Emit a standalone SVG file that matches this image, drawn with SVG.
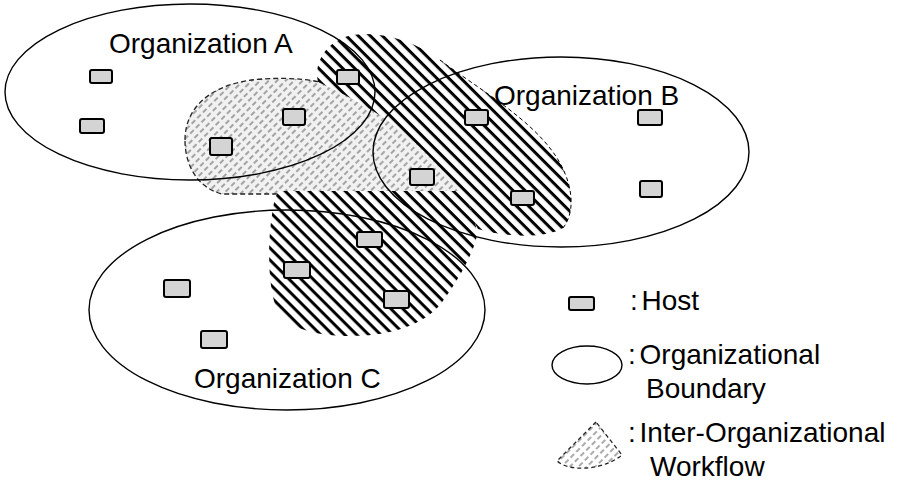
<svg xmlns="http://www.w3.org/2000/svg" width="903" height="486" viewBox="0 0 903 486">
  <defs>
    <!-- thick black "\" hatching for the cross-organization workflows -->
    <pattern id="hatch-dark" width="8.5" height="8.5" patternUnits="userSpaceOnUse" patternTransform="rotate(45)">
      <rect x="0" y="0" width="8.5" height="3" fill="#000"/>
    </pattern>
    <!-- grey dashed "/" hatching for the light workflow -->
    <pattern id="hatch-light" width="8" height="6" patternUnits="userSpaceOnUse" patternTransform="rotate(-45)">
      <line x1="0" y1="1" x2="8" y2="1" stroke="#555" stroke-width="1" stroke-dasharray="5 3"/>
    </pattern>
  </defs>
  <style>
    .org { fill: none; stroke: #000; stroke-width: 1.4; }
    .host { fill: #d4d4d4; stroke: #000; stroke-width: 2; }
    .label { font-family: "Liberation Sans", Arial, sans-serif; font-size: 28px; fill: #000; }
    .legend { word-spacing: -4px; }
    .wf-light-bg { fill: #f1f1f1; }
    .wf-light { fill: url(#hatch-light); stroke: #222; stroke-width: 1.3; stroke-dasharray: 5 3; }
    .wf-dark-bg { fill: #fff; }
    .wf-dark { fill: url(#hatch-dark); }
  </style>
  <rect width="903" height="486" fill="#fff"/>

  <!-- light workflow inside Organization A reaching into B -->
  <g id="workflow-light">
    <path class="wf-light-bg" d="M185,140 C185,104 216,82 262,79 C292,77 318,80 335,86 C360,96 385,108 405,120 C430,140 452,165 466,190 L460,194 L222,194 C198,188 185,166 185,140 Z"/>
    <path class="wf-light" d="M185,140 C185,104 216,82 262,79 C292,77 318,80 335,86 C360,96 385,108 405,120 C430,140 452,165 466,190 L460,194 L222,194 C198,188 185,166 185,140 Z"/>
  </g>

  <!-- workflow spanning A and B -->
  <g id="workflow-ab">
    <path class="wf-dark-bg" d="M318,82 C314,64 324,45 345,37 C372,29 410,38 440,60 C480,90 530,118 555,155 C572,180 577,210 563,228 C545,239 505,237 478,229 C470,215 465,200 458,188 C432,158 410,136 387,120 C365,105 340,92 318,82 Z"/>
    <path class="wf-dark" d="M318,82 C314,64 324,45 345,37 C372,29 410,38 440,60 C480,90 530,118 555,155 C572,180 577,210 563,228 C545,239 505,237 478,229 C470,215 465,200 458,188 C432,158 410,136 387,120 C365,105 340,92 318,82 Z"/>
    <path d="M440,60 C480,90 530,118 555,155 C572,180 577,210 563,228" fill="none" stroke="#000" stroke-width="1" stroke-dasharray="4 3"/>
  </g>

  <!-- workflow reaching into C -->
  <g id="workflow-c">
    <path class="wf-dark-bg" d="M280,191 L462,191 C470,205 479,225 476,240 C470,260 455,285 440,305 C424,323 395,336 350,336 C310,336 286,326 277,310 C267,285 268,240 272,215 C274,200 276,193 280,191 Z"/>
    <path class="wf-dark" d="M280,191 L462,191 C470,205 479,225 476,240 C470,260 455,285 440,305 C424,323 395,336 350,336 C310,336 286,326 277,310 C267,285 268,240 272,215 C274,200 276,193 280,191 Z"/>
  </g>

  <!-- organizational boundaries -->
  <g id="org-a">
    <ellipse class="org" cx="190" cy="92" rx="185" ry="88"/>
    <text class="label" x="109" y="53">Organization A</text>
  </g>
  <g id="org-b">
    <ellipse class="org" cx="561" cy="152" rx="188" ry="95"/>
    <text class="label" x="494" y="105">Organization B</text>
  </g>
  <g id="org-c">
    <ellipse class="org" cx="287" cy="310" rx="198" ry="100"/>
    <text class="label" x="194" y="388">Organization C</text>
  </g>

  <!-- hosts -->
  <g id="host-a1"><rect class="host" x="90" y="70" width="22" height="13" rx="2"/></g>
  <g id="host-a2"><rect class="host" x="80" y="119" width="24" height="14" rx="2"/></g>
  <g id="host-a3"><rect class="host" x="210" y="138" width="22" height="17" rx="2"/></g>
  <g id="host-a4"><rect class="host" x="283" y="109" width="22" height="16" rx="2"/></g>
  <g id="host-a5"><rect class="host" x="337" y="70" width="22" height="14" rx="2"/></g>
  <g id="host-b1"><rect class="host" x="465" y="110" width="23" height="15" rx="2"/></g>
  <g id="host-b2"><rect class="host" x="410" y="169" width="24" height="16" rx="2"/></g>
  <g id="host-b3"><rect class="host" x="511" y="191" width="23" height="14" rx="2"/></g>
  <g id="host-b4"><rect class="host" x="638" y="110" width="24" height="15" rx="2"/></g>
  <g id="host-b5"><rect class="host" x="640" y="181" width="22" height="16" rx="2"/></g>
  <g id="host-c1"><rect class="host" x="357" y="232" width="25" height="15" rx="2"/></g>
  <g id="host-c2"><rect class="host" x="284" y="262" width="26" height="16" rx="2"/></g>
  <g id="host-c3"><rect class="host" x="384" y="291" width="25" height="17" rx="2"/></g>
  <g id="host-c4"><rect class="host" x="164" y="280" width="26" height="17" rx="2"/></g>
  <g id="host-c5"><rect class="host" x="201" y="331" width="26" height="17" rx="2"/></g>

  <!-- legend -->
  <g id="legend">
    <rect class="host" x="569" y="297" width="25" height="13" rx="2" stroke-width="1.6"/>
    <text class="label legend" x="630" y="310">: Host</text>
    <ellipse class="org" cx="587" cy="365" rx="35" ry="19"/>
    <text class="label legend" x="628" y="364">: Organizational</text>
    <text class="label" x="646" y="398">Boundary</text>
    <path d="M596,422 L557,461 C568,471 600,472 622,455 Z" fill="url(#hatch-light)" stroke="#222" stroke-width="1.3" stroke-dasharray="4 3"/>
    <text class="label legend" x="628" y="442">: Inter-Organizational</text>
    <text class="label" x="650" y="476">Workflow</text>
  </g>
</svg>
